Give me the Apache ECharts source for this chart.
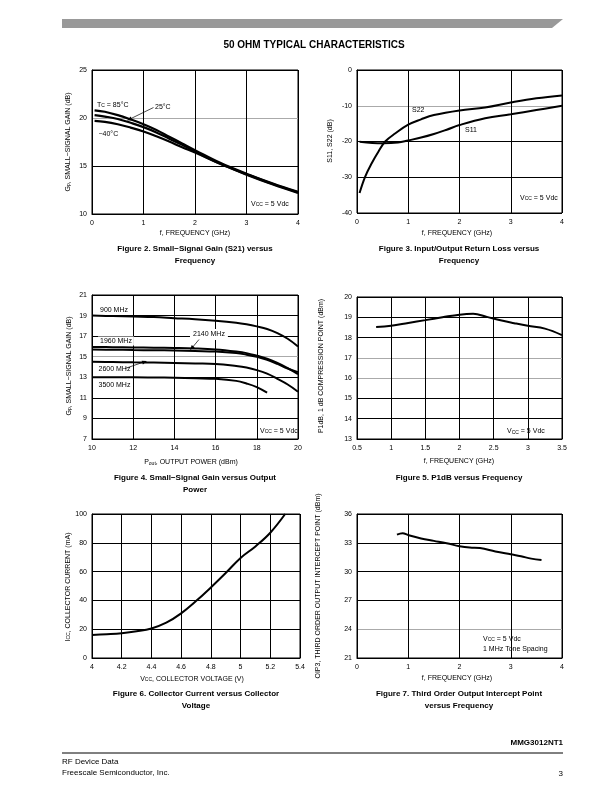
<!DOCTYPE html>
<html><head><meta charset="utf-8">
<script src="https://cdn.jsdelivr.net/npm/echarts@6/dist/echarts.min.js"></script>
<style>html,body{margin:0;padding:0;background:#fff}#c{width:612px;height:792px}</style>
</head><body><div id="c"></div><script>
// ---------- DATA ----------
// Figure 2: Small-signal gain vs frequency
var freq2 = [0.05,0.25,0.5,0.75,1,1.25,1.5,1.75,2,2.5,3,3.5,4];
var gain85 = [20.8,20.65,20.3,19.85,19.35,18.75,18.05,17.35,16.65,15.3,14.2,13.2,12.3];
var gain25 = [20.3,20.15,19.9,19.5,19.05,18.5,17.85,17.2,16.5,15.2,14.15,13.15,12.25];
var gainM40 = [19.7,19.6,19.35,19.0,18.6,18.1,17.55,16.95,16.4,15.2,14.1,13.1,12.2];
// Figure 3: return loss
var freqS22 = [0.05,0.16,0.29,0.42,0.55,0.75,1,1.25,1.5,2,2.5,3,3.5,4];
var s22 = [-34.4,-29.8,-26,-22.8,-20,-17.7,-15.3,-13.8,-12.6,-11.3,-10.5,-9.1,-7.9,-7.1];
var freqS11 = [0.05,0.3,0.5,0.8,1,1.25,1.5,1.75,2,2.5,3,3.5,4];
var s11 = [-20.1,-20.4,-20.5,-20.3,-19.7,-18.9,-17.9,-16.7,-15.4,-13.5,-12.4,-11.2,-10.0];
// Figure 4: gain vs output power
var pout = [10,11,12,13,14,15,16,17,17.5,18,18.5,19,19.5,20];
var g900 = [19.0,18.95,18.9,18.85,18.75,18.65,18.5,18.3,18.15,17.95,17.7,17.3,16.75,16.0];
var g1960 = [15.95,15.93,15.9,15.88,15.85,15.8,15.7,15.5,15.35,15.1,14.8,14.4,13.9,13.3];
var g2140 = [15.7,15.68,15.65,15.63,15.6,15.55,15.5,15.35,15.2,15.0,14.7,14.3,13.85,13.5];
var g2600 = [14.5,14.48,14.45,14.43,14.4,14.35,14.3,14.1,13.95,13.7,13.35,12.85,12.3,11.6];
var pout3500 = [10,11,12,13,14,15,16,17,17.5,18,18.5];
var g3500 = [13.0,13.0,13.0,12.98,12.95,12.9,12.85,12.65,12.4,12.05,11.5];
// Figure 5: P1dB vs frequency
var freq5 = [0.78,1.0,1.25,1.5,1.75,2.0,2.2,2.4,2.6,2.8,3.0,3.25,3.5];
var p1db = [18.52,18.58,18.72,18.86,19.0,19.13,19.17,19.02,18.85,18.71,18.58,18.44,18.12];
// Figure 6: collector current vs voltage
var vcc = [4.0,4.1,4.2,4.3,4.4,4.5,4.6,4.7,4.8,4.9,5.0,5.1,5.2,5.3];
var icc = [16,16.5,17.2,18.5,20.5,24.5,31,39.5,49,59,69.5,77.5,87,100];
// Figure 7: OIP3 vs frequency
var freq7 = [0.78,0.89,1.0,1.25,1.5,1.75,2.0,2.2,2.4,2.7,3.0,3.2,3.4,3.6];
var oip3 = [33.85,34.0,33.8,33.45,33.2,32.95,32.65,32.5,32.45,32.1,31.8,31.6,31.35,31.2];

// ---------- BUILD ----------
var FONT = 'Liberation Sans, Arial, sans-serif';
function zip(a,b){ return a.map(function(v,i){ return [v,b[i]]; }); }

var grids = [
  {left:92, top:70, width:206, height:144},
  {left:357, top:70, width:205, height:143},
  {left:92, top:295, width:206, height:144},
  {left:357, top:297, width:205, height:142},
  {left:92, top:514, width:208, height:144},
  {left:357, top:514, width:205, height:144}
].map(function(g){ g.show = true; g.borderColor = '#000'; g.borderWidth = 1; g.containLabel = false; g.outerBoundsMode = 'none'; return g; });

function ax(gi, min, max, interval, colors, isY){
  return {
    type:'value', gridIndex:gi, min:min, max:max, interval:interval,
    axisLine:{show:true, lineStyle:{color:'#000', width:1}},
    axisTick:{show:false},
    axisLabel:{color:'#000', fontSize:7, fontFamily:FONT, margin: isY ? 5 : 6},
    splitLine:{show:true, lineStyle:{color: colors || '#000', width:1}}
  };
}
var K='#000', G='#aaa';
var xAxes = [
  ax(0,0,4,1),
  ax(1,0,4,1),
  ax(2,10,20,2),
  ax(3,0.5,3.5,0.5),
  ax(4,4,5.4,0.2),
  ax(5,0,4,1)
];
var yAxes = [
  ax(0,10,25,5,[K,K,G,K],true),
  ax(1,-40,0,10,[K,K,K,G,K],true),
  ax(2,7,21,2,[K,K,K,K,G,K,K,K],true),
  ax(3,13,20,1,[K,K,K,G,G,K,K,K],true),
  ax(4,0,100,20,null,true),
  ax(5,21,36,3,[K,G,K,K,K,K],true)
];
function line(gi, xs, ys, w){
  return {type:'line', xAxisIndex:gi, yAxisIndex:gi, data:zip(xs,ys), symbol:'none', showSymbol:false,
    smooth:0.4, lineStyle:{color:'#000', width:w||2}, silent:true, z:5};
}
var series = [
  line(0,freq2,gain85,2.2), line(0,freq2,gain25,2.2), line(0,freq2,gainM40,2.2),
  line(1,freqS22,s22), line(1,freqS11,s11),
  line(2,pout,g900), line(2,pout,g1960), line(2,pout,g2140), line(2,pout,g2600), line(2,pout3500,g3500),
  line(3,freq5,p1db),
  line(4,vcc,icc),
  line(5,freq7,oip3)
];

// ---------- TEXT / GRAPHICS ----------
var RICH = {
  n:{fontSize:7, fontFamily:FONT, fill:'#000', lineHeight:9, verticalAlign:'bottom'},
  s:{fontSize:5, fontFamily:FONT, fill:'#000', lineHeight:4, verticalAlign:'bottom'}
};
function txt(x,y,text,o){
  o = o || {};
  var st = {text:text, x:0, y:0, fill:'#000', fontFamily:FONT, fontSize:o.size||7,
    fontWeight:o.bold?'bold':'normal', align:o.align||'left', verticalAlign:'middle'};
  if (o.rich) { st.rich = RICH; }
  if (o.bg) { st.backgroundColor = '#fff'; st.padding = o.pad || [1,2]; }
  return {type:'text', x:x, y:y, rotation:o.rot||0, z:100, silent:true, style:st};
}
function seg(x1,y1,x2,y2,w,c){
  return {type:'line', z:100, silent:true, shape:{x1:x1,y1:y1,x2:x2,y2:y2}, style:{stroke:c||'#000', lineWidth:w||0.7}};
}
function arrowHead(x1,y1,x2,y2,len,wid){
  var a = Math.atan2(y2-y1,x2-x1), L=len||5, W=wid||2;
  var bx = x2 - L*Math.cos(a), by = y2 - L*Math.sin(a);
  var px = -Math.sin(a)*W, py = Math.cos(a)*W;
  return {type:'polygon', z:101, silent:true, shape:{points:[[x2,y2],[bx+px,by+py],[bx-px,by-py]]}, style:{fill:'#000'}};
}
var R = Math.PI/2;
var graphics = [
  {type:'polygon', silent:true, shape:{points:[[62,19],[563,19],[552,28],[62,28]]}, style:{fill:'#999'}},
  txt(314,45,'50 OHM TYPICAL CHARACTERISTICS',{bold:true,size:10,align:'center'}),
  // Figure 2
  txt(67,142,'{n|G}{s|p}{n|, SMALL−SIGNAL GAIN (dB)}',{rich:true,rot:R,align:'center'}),
  txt(195,233,'f, FREQUENCY (GHz)',{align:'center'}),
  txt(195,249,'Figure 2. Small−Signal Gain (S21) versus',{bold:true,size:8,align:'center'}),
  txt(195,261,'Frequency',{bold:true,size:8,align:'center'}),
  txt(97,104,'{n|T}{s|C}{n| = 85°C}',{rich:true}),
  txt(155,107.5,'25°C'),
  seg(153.5,107.5,129,119.5), arrowHead(153.5,107.5,127,120.5),
  txt(98.5,134,'−40°C'),
  txt(251,203,'{n|V}{s|CC}{n| = 5 Vdc}',{rich:true}),
  // Figure 3
  txt(330,141,'S11, S22 (dB)',{rot:R,align:'center'}),
  txt(457,233,'f, FREQUENCY (GHz)',{align:'center'}),
  txt(459,249,'Figure 3. Input/Output Return Loss versus',{bold:true,size:8,align:'center'}),
  txt(459,261,'Frequency',{bold:true,size:8,align:'center'}),
  txt(412,110,'S22'),
  txt(465,130,'S11'),
  txt(520,197,'{n|V}{s|CC}{n| = 5 Vdc}',{rich:true}),
  // Figure 4
  txt(68,366,'{n|G}{s|p}{n|, SMALL−SIGNAL GAIN (dB)}',{rich:true,rot:R,align:'center'}),
  txt(191,461.5,'{n|P}{s|out}{n|, OUTPUT POWER (dBm)}',{rich:true,align:'center'}),
  txt(195,478,'Figure 4. Small−Signal Gain versus Output',{bold:true,size:8,align:'center'}),
  txt(195,489.5,'Power',{bold:true,size:8,align:'center'}),
  txt(100,310,'900 MHz'),
  txt(98,341,'1960 MHz',{bg:true}),
  txt(190,334.5,'2140 MHz',{bg:true,pad:[2,3]}),
  seg(199,339.5,191.5,348.5), arrowHead(199,339.5,190,350),
  txt(98.5,369.5,'2600 MHz'),
  seg(125,368.5,143,362.3), arrowHead(125,368.5,147,361),
  txt(98.5,385,'3500 MHz'),
  txt(260,430,'{n|V}{s|CC}{n| = 5 Vdc}',{rich:true}),
  // Figure 5
  txt(321,366,'P1dB, 1 dB COMPRESSION POINT (dBm)',{rot:R,align:'center'}),
  txt(459,461.5,'f, FREQUENCY (GHz)',{align:'center'}),
  txt(459,478,'Figure 5. P1dB versus Frequency',{bold:true,size:8,align:'center'}),
  txt(507,430.5,'{n|V}{s|CC}{n| = 5 Vdc}',{rich:true}),
  // Figure 6
  txt(67,587,'{n|I}{s|CC}{n|, COLLECTOR CURRENT (mA)}',{rich:true,rot:R,align:'center'}),
  txt(192,678,'{n|V}{s|CC}{n|, COLLECTOR VOLTAGE (V)}',{rich:true,align:'center'}),
  txt(196,694,'Figure 6. Collector Current versus Collector',{bold:true,size:8,align:'center'}),
  txt(196,705.7,'Voltage',{bold:true,size:8,align:'center'}),
  // Figure 7
  txt(318,586,'OIP3, THIRD ORDER OUTPUT INTERCEPT POINT (dBm)',{rot:R,align:'center'}),
  txt(457,678,'f, FREQUENCY (GHz)',{align:'center'}),
  txt(459,694,'Figure 7. Third Order Output Intercept Point',{bold:true,size:8,align:'center'}),
  txt(459,705.7,'versus Frequency',{bold:true,size:8,align:'center'}),
  txt(483,638,'{n|V}{s|CC}{n| = 5 Vdc}',{rich:true}),
  txt(483,649,'1 MHz Tone Spacing'),
  // Footer
  txt(563,743,'MMG3012NT1',{bold:true,size:8,align:'right'}),
  seg(62,753,563,753,1),
  txt(62,762,'RF Device Data',{size:8}),
  txt(62,773,'Freescale Semiconductor, Inc.',{size:8}),
  txt(563,774,'3',{size:8,align:'right'})
];

var chart = echarts.init(document.getElementById('c'), null, {renderer:'canvas', width:612, height:792});
chart.setOption({
  animation:false,
  backgroundColor:'#fff',
  grid:grids, xAxis:xAxes, yAxis:yAxes, series:series,
  graphic:{elements:graphics}
});
</script></body></html>
